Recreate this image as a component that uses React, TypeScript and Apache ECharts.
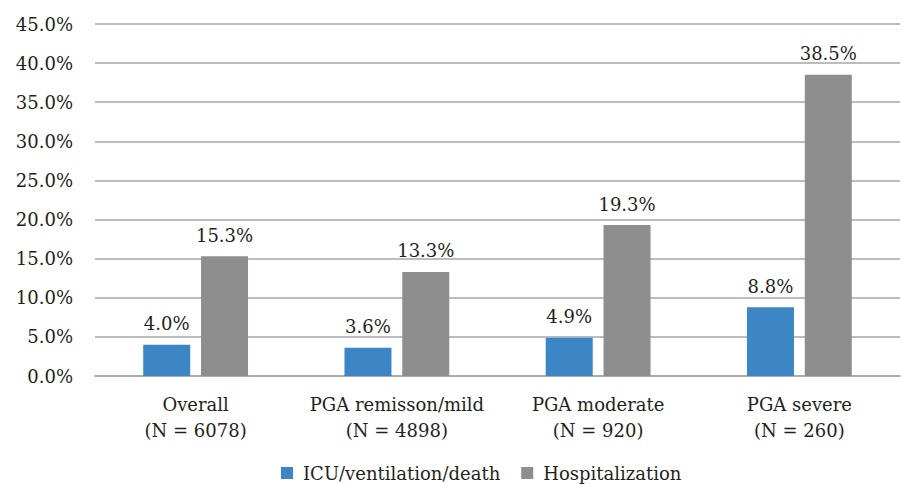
import React, { useEffect, useRef } from "react";
import * as echarts from "echarts";

const categories = [
  "Overall\n(N = 6078)",
  "PGA remisson/mild\n(N = 4898)",
  "PGA moderate\n(N = 920)",
  "PGA severe\n(N = 260)",
];
const icuValues = [4.0, 3.6, 4.9, 8.8];
const hospValues = [15.3, 13.3, 19.3, 38.5];
const seriesNames = ["ICU/ventilation/death", "Hospitalization"];

const FONT = "DejaVu Serif";
const FS = 18;
const TEXT = "#231f20";

export default function App() {
  const ref = useRef<HTMLDivElement>(null);
  useEffect(() => {
    document.body.style.margin = "0";
    const chart = echarts.init(ref.current!, null, { renderer: "svg" });
    const labelCfg = {
      show: true,
      position: "top" as const,
      distance: 12,
      formatter: (p: any) => p.value.toFixed(1) + "%",
      color: TEXT,
      fontFamily: FONT,
      fontSize: FS,
    };
    chart.setOption({
      animation: false,
      backgroundColor: "#ffffff",
      textStyle: { fontFamily: FONT, color: TEXT },
      grid: { left: 95, right: 2, top: 24, bottom: 108, containLabel: false },
      legend: {
        top: 464,
        left: 281,
        padding: 0,
        itemWidth: 12,
        itemHeight: 12,
        itemGap: 21,
        icon: "rect",
        textStyle: {
          fontFamily: FONT,
          fontSize: FS,
          color: TEXT,
          padding: [0, 0, 0, 5],
        },
        data: seriesNames,
      },
      xAxis: {
        type: "category",
        data: categories,
        axisLine: { show: true, lineStyle: { color: "#a6a6a6", width: 1.5 } },
        axisTick: { show: false },
        axisLabel: {
          color: TEXT,
          fontFamily: FONT,
          fontSize: FS,
          lineHeight: 26,
          margin: 15,
          interval: 0,
        },
      },
      yAxis: {
        type: "value",
        min: 0,
        max: 45,
        interval: 5,
        axisLine: { show: false },
        axisTick: { show: false },
        splitLine: { lineStyle: { color: "#a6a6a6", width: 1.5 } },
        axisLabel: {
          color: TEXT,
          fontFamily: FONT,
          fontSize: FS,
          margin: 22,
          formatter: (v: number) => v.toFixed(1) + "%",
        },
      },
      series: [
        {
          name: seriesNames[0],
          type: "bar",
          data: icuValues,
          barWidth: 47,
          barGap: "23%",
          itemStyle: { color: "#3d86c6" },
          label: labelCfg,
        },
        {
          name: seriesNames[1],
          type: "bar",
          data: hospValues,
          barWidth: 47,
          barGap: "23%",
          itemStyle: { color: "#8e8e8e" },
          label: labelCfg,
        },
      ],
    });
    return () => chart.dispose();
  }, []);
  return <div ref={ref} style={{ width: 902, height: 484 }} />;
}
